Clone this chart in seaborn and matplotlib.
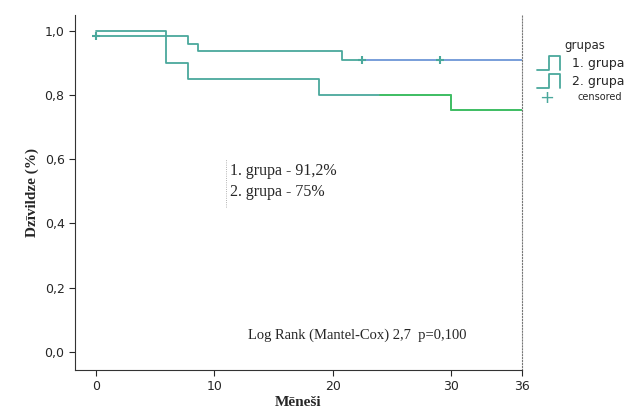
import matplotlib
matplotlib.use("Agg")
import matplotlib.pyplot as plt
import seaborn as sns
import pandas as pd

g1_t = [0, 7.75, 8.6, 20.8, 36]
g1_s = [0.982, 0.957, 0.935, 0.91, 0.91]
g2_t = [0, 5.9, 7.75, 18.8, 30.0, 36]
g2_s = [1.0, 0.90, 0.85, 0.80, 0.753, 0.753]
cens1_t = [0, 22.5, 29.1]
cens1_s = [0.982, 0.91, 0.91]
xticks = [0, 10, 20, 30, 36]
yticks = [0.0, 0.2, 0.4, 0.6, 0.8, 1.0]

sns.set_style("white")
plt.rcParams['font.family'] = ['Liberation Serif', 'DejaVu Serif']
fig = plt.figure(figsize=(6.35, 4.13), dpi=100)
ax = fig.add_axes([0.118, 0.104, 0.704, 0.86])
teal = "#4aa89c"
d1 = pd.DataFrame({"t": g1_t, "s": g1_s})
d2 = pd.DataFrame({"t": g2_t, "s": g2_s})
sns.lineplot(data=d1, x="t", y="s", drawstyle="steps-post", color=teal, lw=1.3, ax=ax)
sns.lineplot(data=d2, x="t", y="s", drawstyle="steps-post", color=teal, lw=1.3, ax=ax)
ax.plot([22.5, 36], [0.91, 0.91], color="#7f9fe0", lw=1.3)
ax.plot([24, 30, 30, 36], [0.80, 0.80, 0.753, 0.753], color="#40c060", lw=1.3)
ax.scatter(cens1_t, cens1_s, marker="+", s=40, color=teal, zorder=3)
ax.set_xlim(-1.8, 36)
ax.set_ylim(-0.057, 1.049)
ax.set_xticks(xticks)
ax.set_yticks(yticks)
ax.set_yticklabels(["0,0", "0,2", "0,4", "0,6", "0,8", "1,0"], fontsize=9, fontfamily="DejaVu Sans")
ax.set_xticklabels([str(x) for x in xticks], fontsize=9, fontfamily="DejaVu Sans")
ax.tick_params(direction="out", length=4, left=True, bottom=True)
for s in ["left", "bottom"]:
    ax.spines[s].set_color("#333333")
ax.spines["top"].set_visible(False)
ax.spines["right"].set_linestyle(":")
ax.spines["right"].set_color("#777777")
ax.set_xlabel("Mēneši", fontsize=11, fontweight="bold", labelpad=2)
ax.set_ylabel("Dzīvildze (%)", fontsize=11, fontweight="bold")
ax.text(11.3, 0.53, "1. grupa - 91,2%\n2. grupa - 75%", fontsize=11.5, va="center", linespacing=1.35)
ax.plot([11.0, 11.0], [0.45, 0.60], color="#999999", lw=0.6, ls=":")
ax.text(12.8, 0.04, "Log Rank (Mantel-Cox) 2,7  p=0,100", fontsize=10.5)
# legend
fig.text(0.921, 0.891, "grupas", fontsize=8.5, fontfamily="DejaVu Sans", ha="center", va="center")
for i, lab in enumerate(["1. grupa", "2. grupa"]):
    y = 0.847 - i * 0.044
    fig.text(0.90, y, lab, fontsize=9, fontfamily="DejaVu Sans", va="center")
    fig.lines.append(matplotlib.lines.Line2D([0.846, 0.865, 0.865, 0.882, 0.882], [y - 0.017, y - 0.017, y + 0.017, y + 0.017, y - 0.017],
                     transform=fig.transFigure, color=teal, lw=1.3))
fig.text(0.861, 0.762, "+", fontsize=13, color=teal, va="center", ha="center", fontfamily="DejaVu Sans")
fig.text(0.91, 0.764, "censored", fontsize=7, fontfamily="DejaVu Sans", va="center")
fig.savefig("out.png", dpi=100)
